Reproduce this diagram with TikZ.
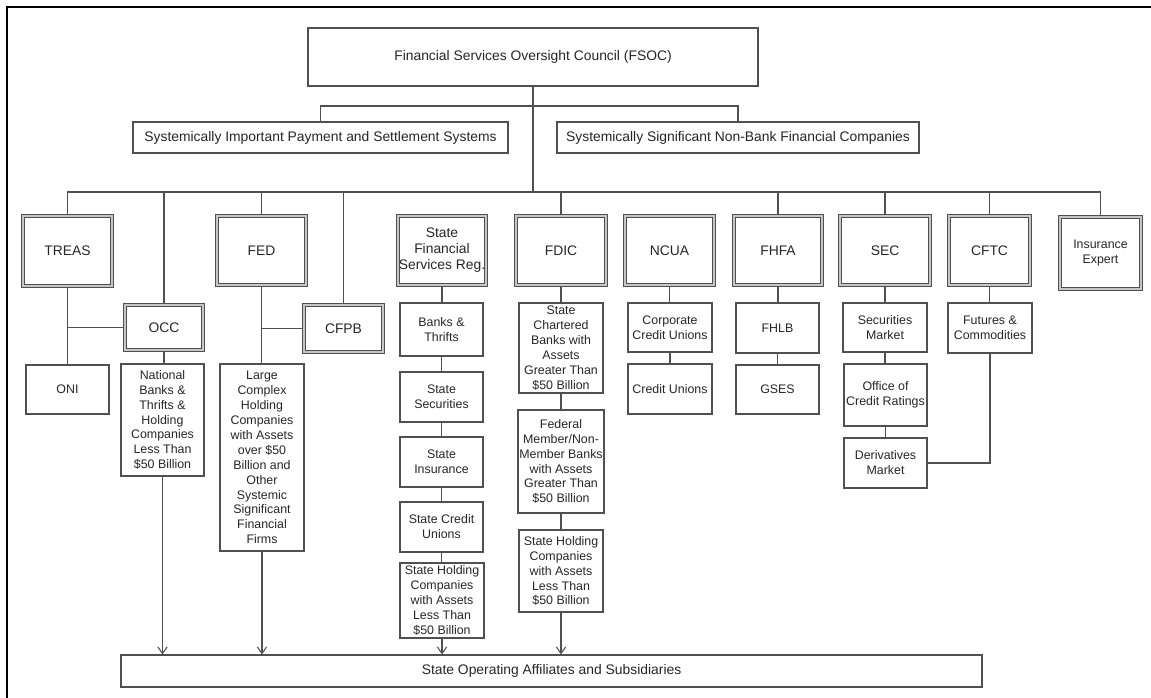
\documentclass[tikz,border=0pt]{standalone}
\usepackage{fontspec}
\setmainfont{Liberation Sans}
\usetikzlibrary{arrows.meta}
\definecolor{lc}{HTML}{505050}
\definecolor{tc}{HTML}{262626}
% name, left, top, right, bottom, style, text  (pixel coordinates)
\newcommand\pbox[7]{\node[#6, minimum width={(#4-#2)*0.75pt}, minimum height={(#5-#3)*0.75pt}] (#1) at ({(#2+#4)/2},{(#3+#5)/2}) {#7};}
\newcommand\dbox[7]{\node[#6, minimum width={(#4-#2-3.6)*0.75pt}, minimum height={(#5-#3-3.6)*0.75pt}] (#1) at ({(#2+#4)/2},{(#3+#5)/2}) {#7};}
\tikzset{
  base/.style={draw=lc, line width=0.8pt, text=tc, inner sep=0pt, align=center},
  big/.style={base, font=\fontsize{10.4}{12}\selectfont},
  small/.style={base, font=\fontsize{9.3}{11.2}\selectfont},
  dbl/.style={draw=lc, line width=0.7pt, double=gray!45, double distance=1.3pt},
  conn/.style={draw=lc, line width=0.8pt},
  arr/.style={conn, -{Straight Barb[length=5pt,width=7pt]}},
}
\begin{document}
\begin{tikzpicture}[x=0.75pt,y=-0.75pt]
\useasboundingbox (0,0) rectangle (1151,698);
\draw[line width=1.8pt, black] (7,698) -- (7,7) -- (1151,7);
\coordinate (bus) at (0,192);
\coordinate (hb) at (0,106);

\pbox{fsoc}{308}{28}{758}{86}{big}{Financial Services Oversight Council (FSOC)}
\pbox{sipss}{133}{122}{508}{153}{big}{Systemically Important Payment and Settlement Systems}
\pbox{ssnb}{557}{122}{919}{153}{big}{Systemically Significant Non-Bank Financial Companies}

\dbox{treas}{21}{214}{114}{288}{big,dbl}{TREAS}
\dbox{fed}{215}{214}{308}{287}{big,dbl}{FED}
\dbox{sfsr}{396}{214}{488}{287}{big,dbl}{State\\Financial\\Services Reg.}
\dbox{fdic}{514}{214}{608}{287}{big,dbl}{FDIC}
\dbox{ncua}{623}{214}{716}{287}{big,dbl}{NCUA}
\dbox{fhfa}{732}{214}{824}{287}{big,dbl}{FHFA}
\dbox{sec}{838}{214}{932}{287}{big,dbl}{SEC}
\dbox{cftc}{947}{214}{1032}{287}{big,dbl}{CFTC}
\dbox{insur}{1058}{215}{1143}{291}{small,dbl}{Insurance\\Expert}

\dbox{occ}{123}{303}{205}{352}{big,dbl}{OCC}
\dbox{cfpb}{302}{303}{385}{354}{big,dbl}{CFPB}

\pbox{oni}{26}{365}{109}{414}{small}{ONI}
\pbox{natl}{121}{364}{204}{476}{small}{National\\Banks \&\\Thrifts \&\\Holding\\Companies\\Less Than\\\$50 Billion}
\pbox{large}{220}{364}{304}{551}{small}{Large\\Complex\\Holding\\Companies\\with Assets\\over \$50\\Billion and\\Other\\Systemic\\Significant\\Financial\\Firms}

\pbox{bt}{400}{303}{483}{356}{small}{Banks \&\\Thrifts}
\pbox{ssec}{400}{372}{483}{422}{small}{State\\Securities}
\pbox{sins}{400}{437}{483}{487}{small}{State\\Insurance}
\pbox{scu}{400}{502}{483}{552}{small}{State Credit\\Unions}
\pbox{shc1}{400}{563}{484}{638}{small}{State Holding\\Companies\\with Assets\\Less Than\\\$50 Billion}

\pbox{scb}{519}{303}{603}{393}{small}{State\\Chartered\\Banks with\\Assets\\Greater Than\\\$50 Billion}
\pbox{fmb}{518}{410}{604}{513}{small}{Federal\\Member/Non-\\Member Banks\\with Assets\\Greater Than\\\$50 Billion}
\pbox{shc2}{519}{530}{603}{612}{small}{State Holding\\Companies\\with Assets\\Less Than\\\$50 Billion}

\pbox{ccu}{628}{303}{712}{352}{small}{Corporate\\Credit Unions}
\pbox{cu}{628}{364}{712}{414}{small}{Credit Unions}

\pbox{fhlb}{736}{303}{819}{353}{small}{FHLB}
\pbox{gses}{736}{365}{819}{414}{small}{GSES}

\pbox{secm}{843}{303}{927}{352}{small}{Securities\\Market}
\pbox{ocr}{844}{364}{927}{426}{small}{Office of\\Credit Ratings}
\pbox{dm}{844}{438}{927}{488}{small}{Derivatives\\Market}

\pbox{fc}{948}{303}{1032}{353}{small}{Futures \&\\Commodities}

\pbox{soas}{121}{655}{982}{687}{big}{State Operating Affiliates and Subsidiaries}

% top connectors
\draw[conn] (fsoc.south) -- (fsoc.south |- bus);
\draw[conn] (sipss.north) -- (sipss.north |- hb) -- (ssnb.north |- hb) -- (ssnb.north);
\draw[conn] (treas.north) -- (treas.north |- bus) -- (insur.north |- bus) -- (insur.north);
\foreach \n in {fed,fdic,fhfa,sec,cftc,occ,cfpb}
  \draw[conn] (\n.north) -- (\n.north |- bus);

% TREAS column
\draw[conn] (treas.south) -- (treas.south |- oni.north);
\draw[conn] (occ.west) -- (occ.west -| treas.south);
\draw[conn] (occ.south) -- (occ.south |- natl.north);
\draw[arr] (natl.south) -- (natl.south |- soas.north);

% FED column
\draw[conn] (fed.south) -- (fed.south |- large.north);
\draw[conn] (cfpb.west) -- (cfpb.west -| fed.south);
\draw[arr] (large.south) -- (large.south |- soas.north);

% State column
\draw[conn] (sfsr.south) -- (sfsr.south |- bt.north);
\draw[conn] (bt.south) -- (bt.south |- ssec.north);
\draw[conn] (ssec.south) -- (ssec.south |- sins.north);
\draw[conn] (sins.south) -- (sins.south |- scu.north);
\draw[conn] (scu.south) -- (scu.south |- shc1.north);
\draw[arr] (shc1.south) -- (shc1.south |- soas.north);

% FDIC column
\draw[conn] (fdic.south) -- (fdic.south |- scb.north);
\draw[conn] (scb.south) -- (scb.south |- fmb.north);
\draw[conn] (fmb.south) -- (fmb.south |- shc2.north);
\draw[arr] (shc2.south) -- (shc2.south |- soas.north);

% NCUA, FHFA, SEC, CFTC
\draw[conn] (ncua.south) -- (ncua.south |- ccu.north);
\draw[conn] (ccu.south) -- (ccu.south |- cu.north);
\draw[conn] (fhfa.south) -- (fhfa.south |- fhlb.north);
\draw[conn] (fhlb.south) -- (fhlb.south |- gses.north);
\draw[conn] (sec.south) -- (sec.south |- secm.north);
\draw[conn] (secm.south) -- (secm.south |- ocr.north);
\draw[conn] (ocr.south) -- (ocr.south |- dm.north);
\draw[conn] (cftc.south) -- (cftc.south |- fc.north);
\draw[conn] (fc.south) |- (dm.east);
\end{tikzpicture}
\end{document}
